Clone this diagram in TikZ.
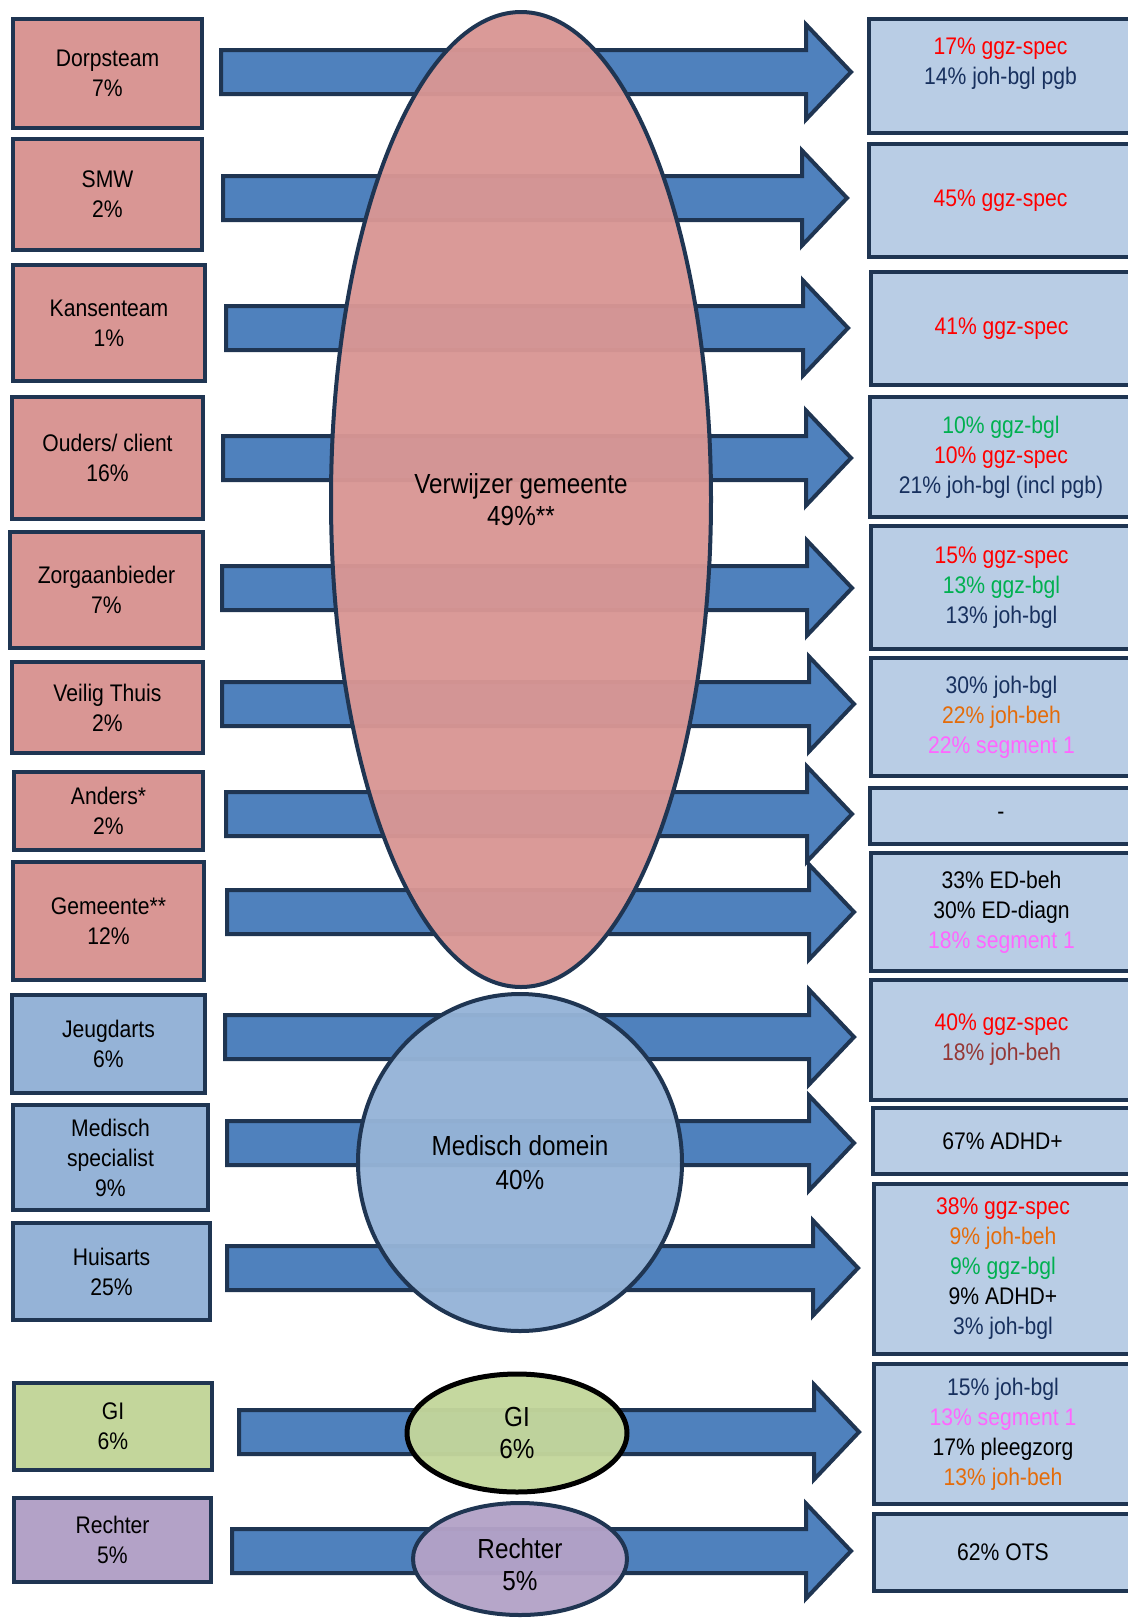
\documentclass[tikz,border=0pt]{standalone}
\usepackage{fontspec}
\setmainfont{Liberation Sans}[FakeStretch=0.88]
\usetikzlibrary{shapes.geometric}
\definecolor{bord}{HTML}{1F3552}
\definecolor{redfill}{HTML}{D99694}
\definecolor{arrowblue}{HTML}{4F81BD}
\definecolor{rightfill}{HTML}{B9CDE5}
\definecolor{medfill}{HTML}{95B3D7}
\definecolor{gifill}{HTML}{C3D69B}
\definecolor{purfill}{HTML}{B3A2C7}
\definecolor{tred}{HTML}{FF0000}
\definecolor{tgreen}{HTML}{00B050}
\definecolor{tnavy}{HTML}{17305E}
\definecolor{torange}{HTML}{E46C0A}
\definecolor{tpink}{HTML}{FF66FF}
\definecolor{tbrown}{HTML}{953735}
\tikzset{
  boxstyle/.style={draw=bord, line width=2pt, inner sep=0pt, align=center,
    font=\fontsize{12}{15}\selectfont},
  fatarrow/.style={draw=bord, fill=arrowblue, line width=2pt, line join=miter},
  ellstyle/.style={ellipse, draw=bord, line width=2pt, inner sep=0pt, align=center,
    fill opacity=0.96, text opacity=1, font=\fontsize{13.8}{16}\selectfont},
}
% name, fill, x1, y1, x2, y2, text
\newcommand\boxat[7]{\node[boxstyle, fill=#2,
   minimum width={(#5-#3-4)*0.5pt}, minimum height={(#6-#4-4)*0.5pt}]
   (#1) at ({(#3+#5)/2},{(#4+#6)/2}) {#7};}
% name, centre y, x start, x tip
\newcommand\fatarr[4]{%
  \coordinate (#1s) at (#3+2,#2);
  \coordinate (#1t) at (#4-2,#2);
  \draw[fatarrow] (#3+2,#2-22) -- (#4-47,#2-22) -- (#4-47,#2-47.5) -- (#1t)
     -- (#4-47,#2+47.5) -- (#4-47,#2+22) -- (#3+2,#2+22) -- cycle;}
\begin{document}
\begin{tikzpicture}[x=0.5pt, y=-0.5pt]
\useasboundingbox (0,0) rectangle (1128,1619);
% arrows
\fatarr{a1}{72}{219}{853}
\fatarr{a2}{198}{221}{849}
\fatarr{a3}{328}{224}{850}
\fatarr{a4}{458}{221}{853}
\fatarr{a5}{588}{220}{854}
\fatarr{a6}{704}{220}{856}
\fatarr{a7}{814}{224}{854}
\fatarr{a8}{912}{225}{856}
\fatarr{a9}{1037}{223}{856}
\fatarr{a10}{1143}{225}{856}
\fatarr{a11}{1268}{225}{860}
\fatarr{a12}{1432}{237}{861}
\fatarr{a13}{1551}{230}{853}
% central shapes
\node[ellstyle, fill=redfill, minimum width=190pt, minimum height=487.5pt] (verw) at (521,499.5) {Verwijzer gemeente\\49\%**};
\node[ellstyle, fill=medfill, minimum width=162pt, minimum height=168.5pt] (med) at (520,1162.5) {Medisch domein\\[0.8pt]40\%};
\node[ellstyle, fill=gifill, draw=black, line width=2.5pt, minimum width=110pt, minimum height=59pt] (gie) at (517,1433) {GI\\6\%};
\node[ellstyle, fill=purfill, minimum width=107pt, minimum height=56pt] (reche) at (520,1559) {\\[0pt]Rechter\\5\%};
% left boxes
\boxat{dorp}{redfill}{11}{17}{204}{130}{Dorpsteam\\7\%}
\boxat{smw}{redfill}{11}{137}{204}{252}{SMW\\2\%}
\boxat{kans}{redfill}{11}{263}{207}{383}{Kansenteam\\1\%}
\boxat{ouders}{redfill}{10}{395}{205}{521}{Ouders/ client\\16\%}
\boxat{zorg}{redfill}{8}{530}{205}{650}{Zorgaanbieder\\7\%}
\boxat{veilig}{redfill}{10}{660}{205}{755}{Veilig Thuis\\2\%}
\boxat{anders}{redfill}{12}{770}{205}{852}{Anders*\\2\%}
\boxat{gem}{redfill}{11}{860}{206}{982}{Gemeente**\\12\%}
\boxat{jeugd}{medfill}{10}{993}{207}{1095}{Jeugdarts\\6\%}
\boxat{medspec}{medfill}{11}{1103}{210}{1212}{Medisch\\specialist\\9\%}
\boxat{huis}{medfill}{11}{1221}{212}{1322}{Huisarts\\25\%}
\boxat{gib}{gifill}{12}{1381}{214}{1472}{GI\\6\%}
\boxat{recht}{purfill}{12}{1496}{213}{1584}{Rechter\\5\%}
% right boxes
\boxat{r1}{rightfill}{867}{17}{1134}{135}{\textcolor{tred}{17\% ggz-spec}\\\textcolor{tnavy}{14\% joh-bgl pgb}\\~}
\boxat{r2}{rightfill}{867}{142}{1134}{259}{\textcolor{tred}{45\% ggz-spec}}
\boxat{r3}{rightfill}{869}{270}{1134}{387}{\textcolor{tred}{41\% ggz-spec}}
\boxat{r4}{rightfill}{868}{395}{1134}{519}{\textcolor{tgreen}{10\% ggz-bgl}\\\textcolor{tred}{10\% ggz-spec}\\\textcolor{tnavy}{21\% joh-bgl (incl pgb)}}
\boxat{r5}{rightfill}{869}{524}{1134}{651}{\textcolor{tred}{15\% ggz-spec}\\\textcolor{tgreen}{13\% ggz-bgl}\\\textcolor{tnavy}{13\% joh-bgl}}
\boxat{r6}{rightfill}{869}{656}{1134}{778}{\textcolor{tnavy}{30\% joh-bgl}\\\textcolor{torange}{22\% joh-beh}\\\textcolor{tpink}{22\% segment 1}}
\boxat{r7}{rightfill}{868}{786}{1134}{846}{-}
\boxat{r8}{rightfill}{869}{851}{1134}{973}{33\% ED-beh\\30\% ED-diagn\\\textcolor{tpink}{18\% segment 1}}
\boxat{r9}{rightfill}{869}{978}{1134}{1102}{\textcolor{tred}{40\% ggz-spec}\\\textcolor{tbrown}{18\% joh-beh}}
\boxat{r10}{rightfill}{871}{1106}{1134}{1176}{67\% ADHD+}
\boxat{r11}{rightfill}{872}{1182}{1134}{1356}{\textcolor{tred}{38\% ggz-spec}\\\textcolor{torange}{9\% joh-beh}\\\textcolor{tgreen}{9\% ggz-bgl}\\9\% ADHD+\\\textcolor{tnavy}{3\% joh-bgl}}
\boxat{r12}{rightfill}{872}{1362}{1134}{1506}{\textcolor{tnavy}{15\% joh-bgl}\\\textcolor{tpink}{13\% segment 1}\\17\% pleegzorg\\\textcolor{torange}{13\% joh-beh}}
\boxat{r13}{rightfill}{872}{1512}{1134}{1593}{62\% OTS}
\end{tikzpicture}
\end{document}
